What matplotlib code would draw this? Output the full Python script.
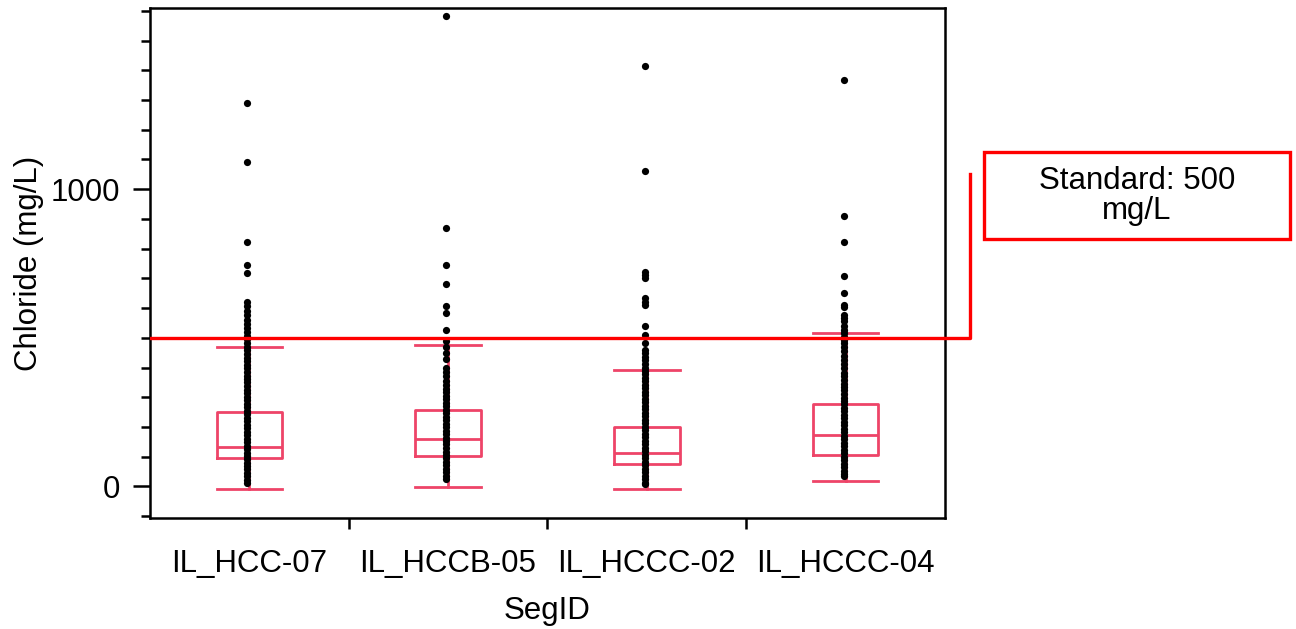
import matplotlib
matplotlib.use("Agg")
import matplotlib.pyplot as plt
from matplotlib.patches import Rectangle
from matplotlib.lines import Line2D

plt.rcParams['font.family'] = ['Liberation Sans', 'DejaVu Sans']

# Segments on the x axis
seg_ids = ["IL_HCC-07", "IL_HCCB-05", "IL_HCCC-02", "IL_HCCC-04"]

# Chloride observations (mg/L) per segment
obs_hcc07 = [1290, 1090, 822, 745, 718, 622, 608, 590, 575, 560, 548, 533, 521,
             507, 495, 483, 470, 458, 447, 433, 421, 410, 398, 385, 372, 361,
             350, 338, 326, 314, 301, 290, 278, 266, 254, 243, 231, 219, 207,
             196, 184, 172, 161, 149, 137, 126, 114, 103, 91, 80, 68, 57, 45,
             34, 22, 13]
obs_hccb05 = [1584, 870, 745, 680, 607, 583, 527, 488, 470, 450, 428, 400, 385,
              370, 355, 340, 329, 317, 305, 293, 281, 270, 258, 246, 234, 222,
              211, 199, 187, 176, 164, 152, 141, 129, 117, 106, 94, 82, 71, 59,
              47, 36, 25]
obs_hccc02 = [1413, 1060, 722, 710, 700, 633, 622, 611, 538, 510, 482, 460, 448,
              436, 424, 412, 400, 389, 377, 365, 353, 342, 330, 318, 306, 295,
              283, 271, 259, 248, 236, 224, 212, 201, 189, 177, 165, 154, 142,
              130, 118, 107, 95, 83, 71, 60, 48, 36, 24, 13, 7]
obs_hccc04 = [1366, 909, 822, 708, 650, 611, 604, 577, 566, 555, 538, 527, 515,
              504, 493, 483, 470, 455, 440, 425, 412, 400, 381, 370, 358, 346,
              334, 323, 311, 299, 287, 276, 264, 252, 240, 229, 217, 205, 193,
              182, 170, 158, 146, 135, 123, 111, 99, 88, 76, 64, 52, 41, 35]
observations = [obs_hcc07, obs_hccb05, obs_hccc02, obs_hccc04]

# Box summary per segment (mg/L)
whisker_low = [-8, -2, -10, 18]
q1 = [96, 102, 76, 104]
median = [133, 161, 113, 172]
q3 = [250, 256, 200, 276]
whisker_high = [470, 477, 391, 515]

standard = 500
standard_text = "Standard: 500\nmg/L"

box_color = "#EE4468"
line_red = "#FF0000"
fs = 22.5

fig = plt.figure(figsize=(12.96, 6.29), dpi=100)
ax = fig.add_axes([0.1157, 0.1757, 0.6134, 0.8108])

stats = []
for i in range(len(seg_ids)):
    stats.append(dict(med=median[i], q1=q1[i], q3=q3[i],
                      whislo=whisker_low[i], whishi=whisker_high[i],
                      fliers=[], label=seg_ids[i]))
positions = list(range(len(seg_ids)))
lw = 2.0
ax.bxp(stats, positions=positions, widths=0.33, showfliers=False,
       boxprops=dict(color=box_color, linewidth=lw),
       medianprops=dict(color=box_color, linewidth=lw),
       whiskerprops=dict(color=box_color, linewidth=lw),
       capprops=dict(color=box_color, linewidth=lw),
       capwidths=0.33, manage_ticks=False, zorder=2)

for i, vals in enumerate(observations):
    ax.plot([positions[i] - 0.01] * len(vals), vals, 'o', color='black',
            markersize=5.2, markeredgewidth=0, zorder=3)

# Standard line, extended past the frame to the callout
ax.axhline(standard, color=line_red, linewidth=2.4, zorder=4)
ytr = ax.get_yaxis_transform()
ax.add_line(Line2D([1.0, 1.0314, 1.0314], [standard, standard, 1050],
                   transform=ytr, color=line_red, linewidth=2.4,
                   clip_on=False, zorder=4))

ax.set_xlim(-0.5, 3.5)
ax.set_ylim(-108, 1608)

# y axis ticks
ax.set_yticks([0, 1000])
ax.set_yticklabels(["0", "1000"], fontsize=fs)
ax.set_yticks(range(-100, 1601, 100), minor=True)
ax.tick_params(axis='y', which='major', length=12.5, width=1.8, pad=9)
ax.tick_params(axis='y', which='minor', length=6.5, width=1.8)

# x axis: separators between segments, labels at segment centres
ax.set_xticks([0.5, 1.5, 2.5])
ax.set_xticklabels([])
ax.tick_params(axis='x', which='major', length=8, width=1.8)
ax.set_xticks(positions, minor=True)
ax.set_xticklabels(seg_ids, minor=True, fontsize=fs)
ax.tick_params(axis='x', which='minor', length=0, pad=22)

for s in ax.spines.values():
    s.set_linewidth(1.8)

ax.set_xlabel("SegID", fontsize=fs, va='top')
ax.xaxis.set_label_coords(0.5, -0.152)
ax.set_ylabel("Chloride (mg/L)", fontsize=fs)
ax.yaxis.set_label_coords(-0.133, 0.5)

# Callout box for the standard
fig.add_artist(Rectangle((0.7593, 0.620), 0.2361, 0.1383,
                         transform=fig.transFigure, facecolor='white',
                         edgecolor=line_red, linewidth=2.4))
fig.text(0.8773, 0.689, standard_text, ha='center', va='center',
         fontsize=fs, linespacing=1.0)

fig.savefig("out.png", dpi=100)
